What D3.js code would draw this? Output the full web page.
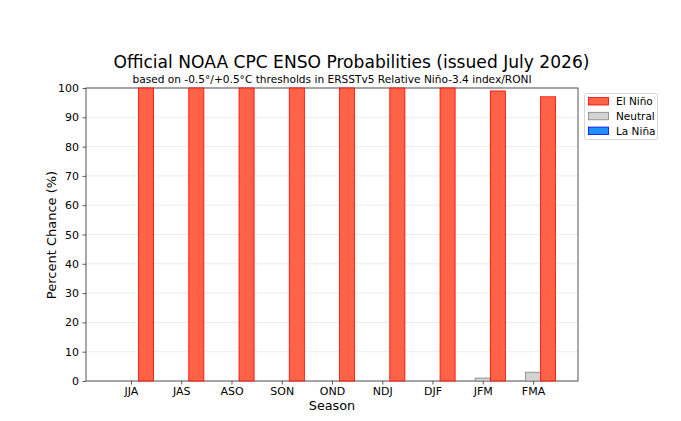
<!DOCTYPE html>
<html><head><meta charset="utf-8">
<script src="https://cdn.jsdelivr.net/npm/d3@7"></script>
<style>body{margin:0;background:#fff}text{font-family:"DejaVu Sans",sans-serif}</style>
</head><body><svg id="c" width="681" height="421"></svg>
<script>
const seasons = ["JJA","JAS","ASO","SON","OND","NDJ","DJF","JFM","FMA"];
const laNina  = [0,0,0,0,0,0,0,0,0];
const neutral = [0,0,0,0,0,0,0,1,3];
const elNino  = [100,100,100,100,100,100,100,99,97];
const yTicks  = [0,10,20,30,40,50,60,70,80,90,100];
const seriesNames = ["El Niño","Neutral","La Niña"];

const svg = d3.select("#c");
const L=86, R=578, T=88, B=381;
const x = d3.scaleLinear().domain([-0.895, 8.895]).range([L, R]);
const y = d3.scaleLinear().domain([0,100]).range([B, T]);
const bw = 0.3;

// grid
svg.append("g").selectAll("line").data(yTicks).join("line")
  .attr("x1",L).attr("x2",R).attr("y1",d=>y(d)).attr("y2",d=>y(d))
  .attr("stroke","#e6e6e6").attr("stroke-width",0.8);

const series = [
  {name:"La Niña", vals:laNina, off:-bw, fill:"#1e90ff", stroke:"#0000ff"},
  {name:"Neutral", vals:neutral, off:0, fill:"#d3d3d3", stroke:"#808080"},
  {name:"El Niño", vals:elNino, off:bw, fill:"#ff6347", stroke:"#ff0000"}
];

// frame
svg.append("rect").attr("x",L).attr("y",T).attr("width",R-L).attr("height",B-T)
  .attr("fill","none").attr("stroke","#555").attr("stroke-width",1);

series.forEach(s=>{
  svg.append("g").selectAll("rect").data(s.vals).join("rect")
    .attr("x",(d,i)=>x(i+s.off-bw/2))
    .attr("width",x(bw)-x(0))
    .attr("y",d=>y(d))
    .attr("height",d=>y(0)-y(d))
    .attr("fill",s.fill).attr("stroke",s.stroke).attr("stroke-width",0.8)
    .attr("stroke-opacity",s.name==="La Niña"?0.3:1);
});

// axes
const xa = svg.append("g").attr("transform",`translate(0,${B})`)
  .call(d3.axisBottom(x).tickValues(d3.range(seasons.length)).tickFormat(i=>seasons[i]).tickSize(3.5).tickPadding(3));
const ya = svg.append("g").attr("transform",`translate(${L},0)`)
  .call(d3.axisLeft(y).tickValues(yTicks).tickSize(3.5).tickPadding(3.5));
[xa,ya].forEach(a=>{
  a.select(".domain").remove();
  a.selectAll("line").attr("stroke","#333").attr("stroke-width",0.8);
  a.selectAll("text").attr("font-size",11).attr("fill","#000").attr("font-family","DejaVu Sans");
});

// titles
svg.append("text").attr("x",351.5).attr("y",68).attr("text-anchor","middle")
  .attr("font-size",17.1).text("Official NOAA CPC ENSO Probabilities (issued July 2026)");
svg.append("text").attr("x",332).attr("y",83.3).attr("text-anchor","middle")
  .attr("font-size",10.6).text("based on -0.5°/+0.5°C thresholds in ERSSTv5 Relative Niño-3.4 index/RONI");
svg.append("text").attr("x",332).attr("y",410).attr("text-anchor","middle")
  .attr("font-size",12.8).text("Season");
svg.append("text").attr("transform","translate(56,235) rotate(-90)").attr("text-anchor","middle")
  .attr("font-size",13).text("Percent Chance (%)");

// legend
const lg = svg.append("g");
lg.append("rect").attr("x",584.5).attr("y",93.5).attr("width",73).attr("height",46).attr("rx",2)
  .attr("fill","#fff").attr("stroke","#ccc").attr("stroke-width",0.8);
const legItems = [series[2],series[1],series[0]];
legItems.forEach((s,i)=>{
  const yy = 97.5 + i*14.8;
  lg.append("rect").attr("x",588.5).attr("y",yy).attr("width",20).attr("height",7.5)
    .attr("fill",s.fill).attr("stroke",s.stroke).attr("stroke-width",0.8);
  lg.append("text").attr("x",616).attr("y",yy+7.5).attr("font-size",10.5).text(seriesNames[i]);
});
</script></body></html>
